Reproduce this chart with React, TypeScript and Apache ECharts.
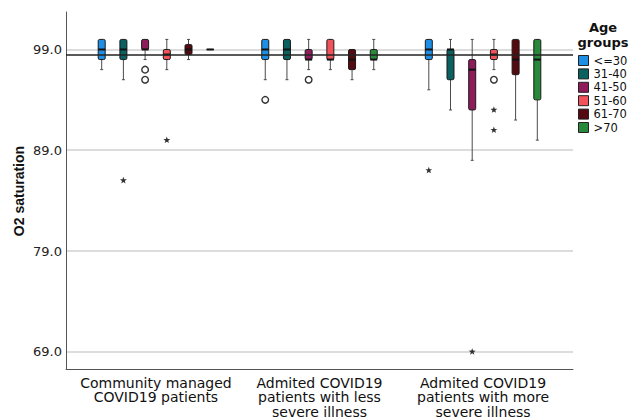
import React, { useEffect, useRef } from 'react';
import * as echarts from 'echarts';

// ---------- data ----------
const categories = [
  'Community managed\nCOVID19 patients',
  'Admited COVID19\npatients with less\nsevere illness',
  'Admited COVID19\npatients with more\nsevere illness',
];
const ageGroups = ['<=30', '31-40', '41-50', '51-60', '61-70', '>70'];
const groupColors = ['#1f8fe6', '#0b6060', '#8f1b5b', '#f2535a', '#540a10', '#28893b'];

// [min, Q1, median, Q3, max] per category
const le30 = [[97, 98, 99, 100, 100], [96, 98, 99, 100, 100], [95, 98, 99, 100, 100]];
const a31to40 = [[96, 98, 99, 100, 100], [96, 98, 99, 100, 100], [93, 96, 99, 99, 100]];
const a41to50 = [[98, 99, 99, 100, 100], [97, 98, 98, 99, 100], [88, 93, 97, 98, 100]];
const a51to60 = [[97, 98, 98.5, 99, 100], [97, 98, 98, 100, 100], [97, 98, 98.5, 99, 100]];
const a61to70 = [[98, 98.5, 99, 99.5, 100], [96, 97, 98, 99, 99], [92, 96.5, 98, 100, 100]];
const gt70 = [[99, 99, 99, 99, 99], [97, 98, 98, 99, 100], [90, 94, 98, 100, 100]];
const boxStats = [le30, a31to40, a41to50, a51to60, a61to70, gt70];

// [category index, age group index, value]
const circleOutliers = [[0, 2, 97], [0, 2, 96], [1, 0, 94], [1, 2, 96], [2, 3, 96]];
const starOutliers = [[0, 1, 86], [0, 3, 90], [2, 0, 87], [2, 2, 69], [2, 3, 93], [2, 3, 91]];

const yTicks = [69, 79, 89, 99];
const referenceValue = 98.5;

// ---------- layout ----------
const FONT = '"DejaVu Sans", sans-serif';
const BOX_STEP = 21.7;
const BOX_W = 7;
const CAP_W = 1.5;

export default function App() {
  const ref = useRef<HTMLDivElement>(null);

  useEffect(() => {
    if (!ref.current) return;
    const chart = echarts.init(ref.current, null, { renderer: 'svg' });

    const boxSeries = ageGroups.map((name, k) => ({
      name,
      type: 'custom',
      z: 2,
      itemStyle: { color: groupColors[k] },
      encode: { x: 0, y: [1, 2, 3, 4, 5] },
      data: boxStats[k].map((s, i) => [i, ...s]),
      renderItem: (params: any, api: any) => {
        const cat = api.value(0);
        const x = api.coord([cat, api.value(3)])[0] + (k - 2.5) * BOX_STEP;
        const yy = (v: number) => api.coord([cat, v])[1];
        const mn = yy(api.value(1));
        const q1 = yy(api.value(2));
        const md = yy(api.value(3));
        const q3 = yy(api.value(4));
        const mx = yy(api.value(5));
        const ws = { stroke: '#4a4a4a', lineWidth: 1 };
        const children: any[] = [];
        if (mx < q3) {
          children.push({ type: 'line', shape: { x1: x, y1: mx, x2: x, y2: q3 }, style: ws });
          children.push({ type: 'line', shape: { x1: x - CAP_W, y1: mx, x2: x + CAP_W, y2: mx }, style: ws });
        }
        if (mn > q1) {
          children.push({ type: 'line', shape: { x1: x, y1: q1, x2: x, y2: mn }, style: ws });
          children.push({ type: 'line', shape: { x1: x - CAP_W, y1: mn, x2: x + CAP_W, y2: mn }, style: ws });
        }
        children.push({
          type: 'rect',
          shape: { x: x - BOX_W / 2, y: q3, width: BOX_W, height: Math.max(q1 - q3, 0), r: 1.5 },
          style: { fill: groupColors[k], stroke: '#1a1a1a', lineWidth: 1 },
        });
        children.push({
          type: 'line',
          shape: { x1: x - BOX_W / 2, y1: md, x2: x + BOX_W / 2, y2: md },
          style: { stroke: '#111', lineWidth: 2 },
        });
        return { type: 'group', children };
      },
    }));

    const outlierPos = (api: any) => {
      const cat = api.value(0);
      const k = api.value(1);
      const p = api.coord([cat, api.value(2)]);
      return [p[0] + (k - 2.5) * BOX_STEP, p[1]];
    };

    const circleSeries = {
      name: 'circles',
      type: 'custom',
      z: 3,
      encode: { x: 0, y: 2 },
      data: circleOutliers,
      renderItem: (params: any, api: any) => {
        const [cx, cy] = outlierPos(api);
        return {
          type: 'circle',
          shape: { cx, cy, r: 3.3 },
          style: { fill: 'none', stroke: '#333', lineWidth: 1.4 },
        };
      },
    };

    const starSeries = {
      name: 'stars',
      type: 'custom',
      z: 3,
      encode: { x: 0, y: 2 },
      data: starOutliers,
      renderItem: (params: any, api: any) => {
        const [cx, cy] = outlierPos(api);
        const pts: number[][] = [];
        for (let i = 0; i < 10; i++) {
          const r = i % 2 === 0 ? 3.6 : 1.5;
          const a = -Math.PI / 2 + (i * Math.PI) / 5;
          pts.push([cx + r * Math.cos(a), cy + r * Math.sin(a)]);
        }
        return { type: 'polygon', shape: { points: pts }, style: { fill: '#333' } };
      },
      markLine: {
        silent: true,
        symbol: 'none',
        label: { show: false },
        z: 5,
        lineStyle: { color: '#222', width: 1.5, type: 'solid' },
        data: [{ yAxis: referenceValue }],
      },
    };

    chart.setOption({
      animation: false,
      textStyle: { fontFamily: FONT },
      grid: { left: 66, right: 57, top: 12, bottom: 48.5 },
      xAxis: {
        type: 'value',
        min: -0.55,
        max: 2.55,
        splitLine: { show: false },
        axisTick: { show: false },
        axisLine: { show: true, onZero: false, lineStyle: { color: '#555', width: 1 } },
        axisLabel: {
          customValues: [0, 1, 2],
          formatter: (v: number) => categories[Math.round(v)] ?? '',
          fontSize: 14,
          lineHeight: 14.5,
          color: '#111',
          margin: 6,
          fontFamily: FONT,
        },
      },
      yAxis: {
        type: 'value',
        min: 67.24,
        max: 102.72,
        axisLine: { show: true, onZero: false, lineStyle: { color: '#555', width: 1 } },
        axisTick: { show: false, customValues: yTicks },
        axisLabel: {
          customValues: yTicks,
          formatter: (v: number) => v.toFixed(1),
          fontSize: 13,
          color: '#222',
          margin: 4,
          fontFamily: FONT,
        },
        splitLine: { show: true, lineStyle: { color: '#d0d0d0', width: 1.5 } },
      },
      legend: {
        data: ageGroups,
        orient: 'vertical',
        left: 578,
        top: 54.5,
        padding: 0,
        itemWidth: 10,
        itemHeight: 10,
        itemGap: 1.4,
        icon: 'rect',
        itemStyle: { borderColor: '#222', borderWidth: 1 },
        textStyle: { fontSize: 11.5, lineHeight: 12, color: '#111', fontFamily: FONT },
      },
      graphic: [
        {
          type: 'text',
          x: 19,
          y: 191,
          rotation: Math.PI / 2,
          style: {
            text: 'O2 saturation',
            font: 'bold 14px "Liberation Sans", Arial, sans-serif',
            textAlign: 'center',
            textVerticalAlign: 'middle',
            fill: '#111',
          },
        },
        {
          type: 'text',
          x: 603,
          y: 20,
          style: {
            text: 'Age\ngroups',
            font: 'bold 13px "DejaVu Sans", sans-serif',
            lineHeight: 15,
            textAlign: 'center',
            textVerticalAlign: 'top',
            fill: '#111',
          },
        },
      ],
      series: [...boxSeries, circleSeries, starSeries],
    });

    return () => chart.dispose();
  }, []);

  return (
    <div
      ref={ref}
      style={{ position: 'fixed', left: 0, top: 0, width: 630, height: 419, background: '#fff' }}
    />
  );
}
